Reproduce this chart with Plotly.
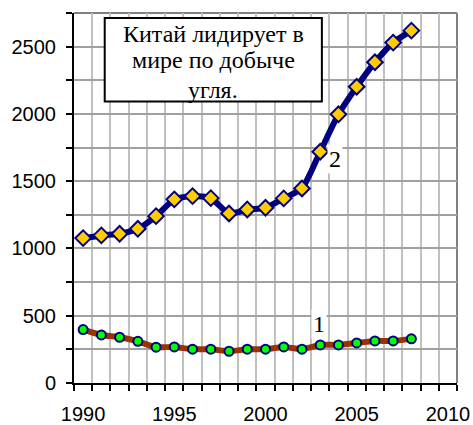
import plotly.graph_objects as go

years = list(range(1990, 2009))
china = [1077, 1097, 1109, 1146, 1240, 1365, 1389, 1374, 1260, 1290, 1302, 1372, 1446, 1719, 1997, 2202, 2384, 2530, 2619]
other = [397, 357, 340, 310, 266, 268, 251, 251, 236, 251, 251, 268, 251, 283, 283, 298, 313, 313, 328]
x_ticks = [1990, 1995, 2000, 2005, 2010]
y_ticks = [0, 500, 1000, 1500, 2000, 2500]
box_lines = ["Китай лидирует в", "мире по добыче", "угля."]

serif = "Liberation Serif, Times New Roman, serif"
sans = "Liberation Sans, Arial, sans-serif"

fig = go.Figure()
fig.add_trace(go.Scatter(
    x=years, y=other, mode="lines+markers",
    line=dict(color="#993300", width=6, shape="spline", smoothing=0.6),
    marker=dict(symbol="circle", size=9, color="#00FF00", line=dict(color="#000080", width=2)),
    showlegend=False, cliponaxis=False))
fig.add_trace(go.Scatter(
    x=years, y=china, mode="lines+markers",
    line=dict(color="#000080", width=6, shape="spline", smoothing=0.6),
    marker=dict(symbol="diamond", size=12, color="#FFCC00", line=dict(color="#000080", width=2)),
    showlegend=False, cliponaxis=False))

# plot border (top/right)
fig.add_shape(type="line", xref="paper", yref="paper", x0=0, y0=1, x1=1, y1=1,
              line=dict(color="#808080", width=2), layer="below")
fig.add_shape(type="line", xref="paper", yref="paper", x0=1, y0=0, x1=1, y1=1,
              line=dict(color="#808080", width=2), layer="below")

# text box
fig.add_shape(type="rect", xref="paper", yref="paper", x0=0.0802, x1=0.6472, y0=0.7607, y1=0.9865,
              line=dict(color="black", width=2), fillcolor="white", layer="above")
line_y = [0.9445, 0.8725, 0.7910]
for txt, yy in zip(box_lines, line_y):
    fig.add_annotation(xref="paper", yref="paper", x=0.3632, y=yy, text=txt,
                       showarrow=False, xanchor="center", yanchor="middle",
                       font=dict(family=serif, size=24, color="black"))

fig.add_annotation(x=2003.83, y=1664, text="2", showarrow=False, bgcolor="white",
                   font=dict(family=serif, size=24, color="black"))
fig.add_annotation(x=2002.95, y=437, text="1", showarrow=False, bgcolor="white",
                   font=dict(family=serif, size=24, color="black"))

fig.update_xaxes(range=[1989.5, 2010.5], tickmode="array", tickvals=x_ticks,
                 ticktext=[str(v) for v in x_ticks], ticks="", showgrid=False,
                 showline=True, linecolor="black", linewidth=2, zeroline=False,
                 automargin=False, ticklabelstandoff=12,
                 minor=dict(tickmode="linear", tick0=1989.5, dtick=1, showgrid=True,
                            gridcolor="#c0c0c0", gridwidth=2, ticks="outside", ticklen=6,
                            tickcolor="black", tickwidth=2),
                 tickfont=dict(family=sans, size=20, color="black"))
fig.update_yaxes(range=[0, 2750], tickmode="array", tickvals=y_ticks,
                 ticks="outside", ticklen=6, tickcolor="black", tickwidth=2,
                 showgrid=True, gridcolor="#a0a0a0", gridwidth=2,
                 showline=True, linecolor="black", linewidth=2, zeroline=False,
                 automargin=False, ticklabelstandoff=6,
                 minor=dict(tickmode="linear", tick0=0, dtick=250, showgrid=True,
                            gridcolor="#a0a0a0", gridwidth=2, ticks="outside", ticklen=6,
                            tickcolor="black", tickwidth=2),
                 tickfont=dict(family=sans, size=20, color="black"))

fig.update_layout(width=473, height=425, margin=dict(l=74, r=16, t=13, b=42),
                  plot_bgcolor="white", paper_bgcolor="white")
fig.write_html("out.html", config={"displayModeBar": False},
               post_script="document.body.style.margin='0';document.body.style.overflow='hidden';")
